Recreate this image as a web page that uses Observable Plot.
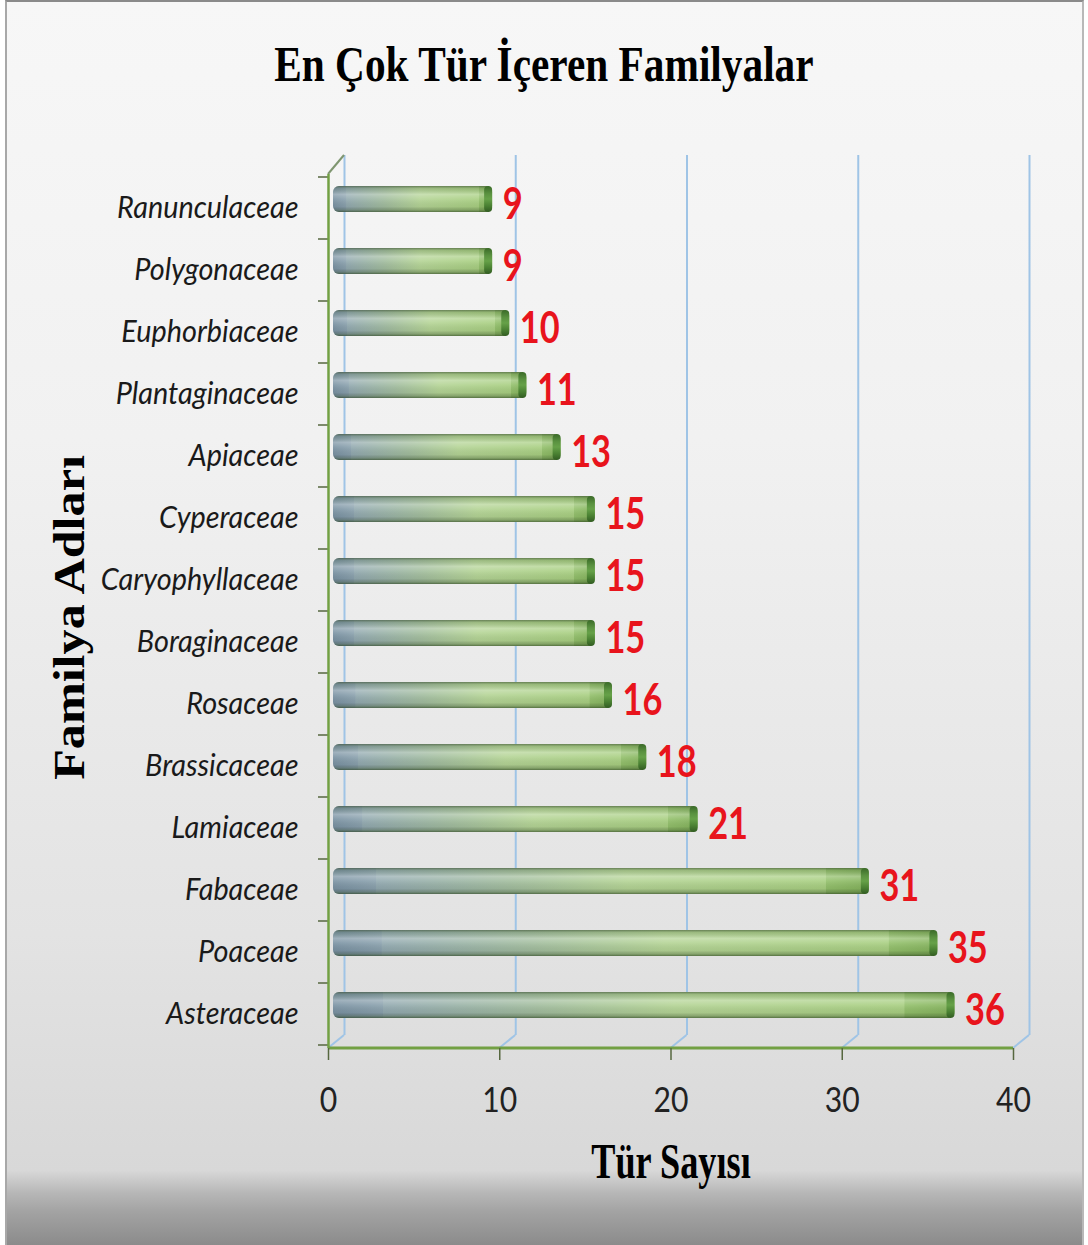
<!DOCTYPE html>
<html>
<head>
<meta charset="utf-8">
<script src="https://cdn.jsdelivr.net/npm/d3@7"></script>
<script src="https://cdn.jsdelivr.net/npm/@observablehq/plot@0.6"></script>
<style>
  html, body { margin: 0; padding: 0; background: #ffffff; }
  #page { position: relative; width: 1088px; height: 1245px; overflow: hidden; }
  #bg {
    position: absolute; left: 5px; top: 0; width: 1079px; height: 1245px; box-sizing: border-box;
    border-top: 2px solid #8a8a8a; border-left: 2px solid #a8a8a8; border-right: 2px solid #b8b8b8;
    background: linear-gradient(to bottom, #f7f7f7 0%, #f1f1f1 35%, #e3e3e3 75%, #d8d8d8 94%, #b7b7b7 95.8%, #a3a3a3 97.3%, #8b8b8b 100%);
  }
  #title {
    position: absolute; left: 0; top: 39px; width: 1088px; text-align: center;
    font-family: "Liberation Serif", "Times New Roman", serif; font-weight: bold;
    font-size: 51px; line-height: 51px; color: #000;
  }
  #title span { display: inline-block; transform: scaleX(0.81); transform-origin: center; }
  #chart { position: absolute; left: 0; top: 120px; }
</style>
</head>
<body>
<div id="page">
  <div id="bg"></div>
  <div id="title"><span>En Çok Tür İçeren Familyalar</span></div>
  <div id="chart"></div>
</div>
<script>
// ---- data ----
const families = ["Ranunculaceae", "Polygonaceae", "Euphorbiaceae", "Plantaginaceae", "Apiaceae",
  "Cyperaceae", "Caryophyllaceae", "Boraginaceae", "Rosaceae", "Brassicaceae",
  "Lamiaceae", "Fabaceae", "Poaceae", "Asteraceae"];
const counts = [9, 9, 10, 11, 13, 15, 15, 15, 16, 18, 21, 31, 35, 36];
const xTicks = [0, 10, 20, 30, 40];
const yTitle = "Familya Adları";
const xTitle = "Tür Sayısı";

const data = families.map((family, i) => ({family, count: counts[i]}));

// ---- style ----
const AXIS_GREEN = "#72a043";
const GRID_BLUE = "#9fc4e6";
const TICK_DARK = "#56673f";
const DEPTH_X = 16, DEPTH_Y = -13;

function scene(index, scales, values, dimensions) {
  const {x, y} = scales;
  const {height, marginTop, marginBottom} = dimensions;
  const bottom = height - marginBottom;
  const g = d3.create("svg:g");
  const defs = g.append("defs");
  const grad = (id, x2, y2, stops) => {
    const e = defs.append("linearGradient").attr("id", id)
      .attr("x1", 0).attr("y1", 0).attr("x2", x2).attr("y2", y2);
    stops.forEach(([o, c, op]) => e.append("stop").attr("offset", o).attr("stop-color", c).attr("stop-opacity", op ?? 1));
  };
  grad("barGrad", 1, 0, [
    [0, "#7a92a3"], [0.08, "#8aa1ad"], [0.081, "#92a9b0"], [0.33, "#a2bd9e"],
    [0.55, "#b4d495"], [0.919, "#a8cf81"], [0.92, "#93c06b"], [1, "#84b35c"]
  ]);
  grad("shadeGrad", 0, 1, [
    [0, "#33482a", 0.6], [0.1, "#4a6040", 0.2], [0.32, "#ffffff", 0.28], [0.5, "#ffffff", 0.1],
    [0.8, "#000000", 0.06], [0.92, "#263d1a", 0.3], [1, "#263d1a", 0.65]
  ]);
  grad("capGrad", 0, 1, [
    [0, "#3a6a28"], [0.3, "#5a9240"], [0.5, "#66a148"], [0.75, "#4b8233"], [1, "#325c22"]
  ]);
  // floor diagonals
  g.selectAll("line.floor").data(xTicks).join("line")
    .attr("x1", d => x(d)).attr("y1", bottom)
    .attr("x2", d => x(d) + DEPTH_X).attr("y2", bottom + DEPTH_Y)
    .attr("stroke", GRID_BLUE).attr("stroke-width", 2);
  // top edge of left wall
  g.append("line")
    .attr("x1", x(0)).attr("y1", marginTop)
    .attr("x2", x(0) + DEPTH_X).attr("y2", marginTop + DEPTH_Y - 6)
    .attr("stroke", "#7f9670").attr("stroke-width", 2);
  // category boundary ticks
  const bw = typeof y.bandwidth === "function" ? y.bandwidth() : (bottom - marginTop) / families.length;
  const bounds = families.map(f => y(f)).concat([y(families[families.length - 1]) + bw]);
  g.selectAll("line.cat").data(bounds).join("line")
    .attr("x1", x(0) - 10).attr("x2", x(0))
    .attr("y1", d => d).attr("y2", d => d)
    .attr("stroke", TICK_DARK).attr("stroke-width", 1.5);
  // front x-axis line
  g.append("line")
    .attr("x1", x(xTicks[0])).attr("x2", x(xTicks[xTicks.length - 1]))
    .attr("y1", bottom).attr("y2", bottom)
    .attr("stroke", AXIS_GREEN).attr("stroke-width", 3);
  return g.node();
}

const barOpts = {y: "family", insetTop: 18, insetBottom: 18, dx: 10, dy: -9};

const chart = Plot.plot({
  width: 1088,
  height: 1090,
  marginTop: 54,
  marginBottom: 162,
  marginLeft: 328,
  marginRight: 75,
  style: {background: "transparent", overflow: "visible", fontFamily: "Lato"},
  x: {domain: [0, 40]},
  y: {domain: families, padding: 0},
  marks: [
    Plot.ruleX(xTicks, {dx: DEPTH_X, dy: DEPTH_Y, insetTop: -6, stroke: GRID_BLUE, strokeWidth: 2}),
    scene,
    Plot.ruleX([0], {stroke: AXIS_GREEN, strokeWidth: 2.5}),
    Plot.axisX(xTicks, {tickSize: 12, tickPadding: 27, fontSize: 35, fontFamily: "Lato", stroke: TICK_DARK, strokeWidth: 1.5, fill: "#222", label: null}),
    Plot.axisY({tickSize: 0, tickPadding: 30, fontSize: 31, fontStyle: "italic", fontFamily: "Lato", fill: "#1a1a1a", label: null}),
    Plot.barX(data, {...barOpts, x: "count", insetLeft: -5, rx: 6, fill: "url(#barGrad)"}),
    Plot.barX(data, {...barOpts, x: "count", insetLeft: -5, rx: 6, fill: "url(#shadeGrad)"}),
    Plot.barX(data, {...barOpts, x1: "count", x2: "count", insetLeft: -8, rx: 4, fill: "url(#capGrad)"}),
    Plot.text(data, {x: "count", y: "family", text: d => String(d.count), dx: 20, dy: -3, textAnchor: "start",
      fill: "#e8141c", fontFamily: "Lato", fontWeight: "bold", fontSize: 43}),
    Plot.text([yTitle], {frameAnchor: "left", dx: -259, dy: 6, rotate: -90, textAnchor: "middle", lineAnchor: "middle",
      fontFamily: "Liberation Serif", fontWeight: "bold", fontSize: 44, fill: "#000"}),
    Plot.text([xTitle], {frameAnchor: "bottom", dy: 113, textAnchor: "middle", lineAnchor: "middle",
      fontFamily: "Liberation Serif", fontWeight: "bold", fontSize: 50, fill: "#000"})
  ]
});

document.getElementById("chart").append(chart);

function condense(elements, k) {
  elements.forEach(t => {
    const w = t.getComputedTextLength();
    t.setAttribute("textLength", (w * k).toFixed(1));
    t.setAttribute("lengthAdjust", "spacingAndGlyphs");
  });
}
const q = sel => Array.from(chart.querySelectorAll(sel));
condense(q('g[aria-label="y-axis tick label"] text'), 0.93);
condense(q('g[aria-label="x-axis tick label"] text'), 0.86);
const textGroups = q('g[aria-label="text"]');
// order of text marks: value labels, y title, x title
if (textGroups.length === 3) {
  condense(Array.from(textGroups[0].querySelectorAll("text")), 0.8);
  condense(Array.from(textGroups[1].querySelectorAll("text")), 1.14);
  condense(Array.from(textGroups[2].querySelectorAll("text")), 0.725);
}
</script>
</body>
</html>
